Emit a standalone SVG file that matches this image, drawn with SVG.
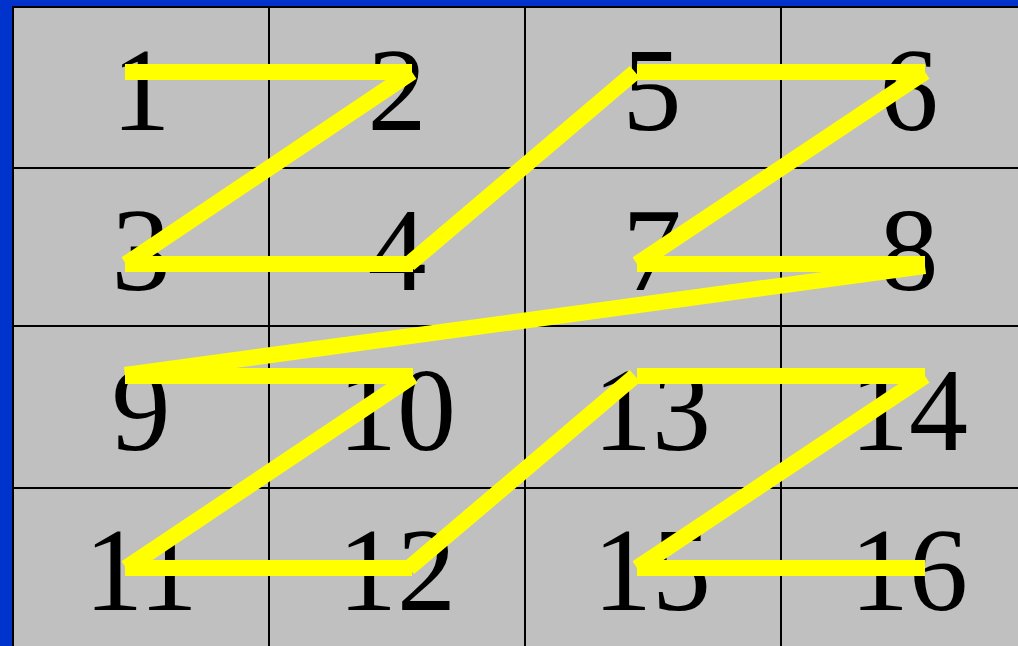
<svg xmlns="http://www.w3.org/2000/svg" width="1018" height="646" viewBox="0 0 1018 646">
<style>
.grid{stroke:#000;stroke-width:2;fill:none}
.num{font-family:"Liberation Serif","Times New Roman",serif;font-size:118px;fill:#000;text-anchor:middle}
.seg{stroke:#ffff00;stroke-width:16;stroke-linecap:butt;fill:none}
</style>
<rect x="0" y="0" width="1018" height="646" fill="#0033cc"/>
<rect x="12" y="6" width="1030" height="660" fill="#c0c0c0"/>
<g id="grid" class="grid">
<rect x="13" y="7" width="1030" height="660"/>
<line x1="269" y1="6" x2="269" y2="646"/>
<line x1="525" y1="6" x2="525" y2="646"/>
<line x1="781" y1="6" x2="781" y2="646"/>
<line x1="12" y1="168" x2="1018" y2="168"/>
<line x1="12" y1="326" x2="1018" y2="326"/>
<line x1="12" y1="488" x2="1018" y2="488"/>
</g>
<g id="n1"><text class="num" x="141" y="130">1</text></g>
<g id="n2"><text class="num" x="397" y="130">2</text></g>
<g id="n5"><text class="num" x="652" y="130">5</text></g>
<g id="n6"><text class="num" x="909" y="130">6</text></g>
<g id="n3"><text class="num" x="141" y="290">3</text></g>
<g id="n4"><text class="num" x="397" y="290">4</text></g>
<g id="n7"><text class="num" x="652" y="290">7</text></g>
<g id="n8"><text class="num" x="909" y="290">8</text></g>
<g id="n9"><text class="num" x="141" y="450">9</text></g>
<g id="n10"><text class="num" x="397" y="450">10</text></g>
<g id="n13"><text class="num" x="652" y="450">13</text></g>
<g id="n14"><text class="num" x="909" y="450">14</text></g>
<g id="n11"><text class="num" x="141" y="610">11</text></g>
<g id="n12"><text class="num" x="397" y="610">12</text></g>
<g id="n15"><text class="num" x="652" y="610">15</text></g>
<g id="n16"><text class="num" x="909" y="610">16</text></g>
<g id="connectors" class="seg">
<line x1="125" y1="72" x2="412" y2="72"/>
<line x1="412" y1="72" x2="126" y2="264"/>
<line x1="125" y1="264" x2="413" y2="264"/>
<line x1="409" y1="264" x2="635" y2="72"/>
<line x1="637" y1="72" x2="925" y2="72"/>
<line x1="925" y1="72" x2="637" y2="264"/>
<line x1="637" y1="264" x2="925" y2="264"/>
<line x1="925" y1="266" x2="125" y2="375"/>
<line x1="125" y1="376" x2="413" y2="376"/>
<line x1="413" y1="376" x2="126" y2="568"/>
<line x1="125" y1="568" x2="412" y2="568"/>
<line x1="409" y1="568" x2="635" y2="376"/>
<line x1="637" y1="376" x2="925" y2="376"/>
<line x1="925" y1="376" x2="637" y2="568"/>
<line x1="637" y1="568" x2="925" y2="568"/>
</g>
</svg>
